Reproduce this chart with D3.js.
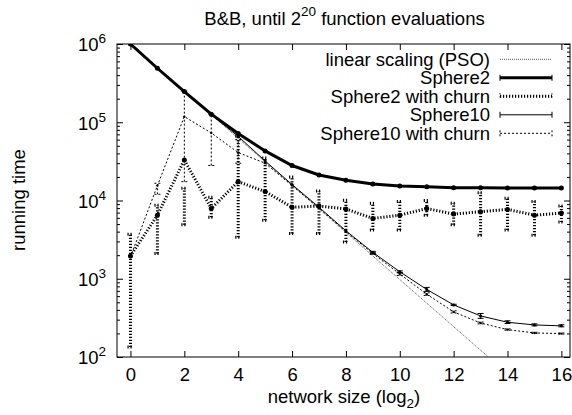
<!DOCTYPE html>
<html>
<head>
<meta charset="utf-8">
<script src="https://cdn.jsdelivr.net/npm/d3@7"></script>
<style>
body { margin: 0; background: #fff; }
text { font-family: "Liberation Sans", Arial, sans-serif; fill: #000; }
</style>
</head>
<body>
<div id="chart"></div>
<script>
// values (x = log2 network size)
var netSize = [0, 1, 2, 3, 4, 5, 6, 7, 8, 9, 10, 11, 12, 13, 14, 15, 16];
var xTicks = [0, 2, 4, 6, 8, 10, 12, 14, 16];
var yDecades = [1e2, 1e3, 1e4, 1e5, 1e6];

var linearPSO = [1e6, 5e5, 2.5e5, 1.25e5, 62500, 31250, 15625, 7812, 3906, 1953, 977, 488, 244, 122, 61, 31, 15];

var sphere2 = [1e6, 4.9e5, 2.47e5, 1.27e5, 7.2e4, 4.3e4, 2.8e4, 2.12e4, 1.82e4, 1.62e4, 1.53e4, 1.5e4, 1.46e4, 1.45e4, 1.44e4, 1.44e4, 1.44e4];

var sphere2Churn   = [1950, 6500, 33000, 7900, 17400, 13000, 8200, 8500, 7800, 5900, 6500, 7900, 6700, 7200, 7700, 6500, 6900];
var sphere2ChurnLo = [134, 2100, 4900, 6100, 3400, 5600, 3800, 3800, 2950, 4200, 4200, 6500, 4900, 3600, 4200, 3600, 5300];
var sphere2ChurnHi = [3700, 8700, 14300, 11000, 66000, 35000, 20000, 13200, 10100, 9200, 9700, 10000, 9200, 12600, 10700, 9700, 8500];

var sphere10   = [1e6, 5e5, 2.5e5, 1.25e5, 6.6e4, 3.2e4, 1.6e4, 8.2e3, 4.1e3, 2170, 1230, 730, 463, 335, 278, 257, 250];
var sphere10Lo = [1e6, 5e5, 2.5e5, 1.25e5, 6.6e4, 3.2e4, 1.6e4, 8.2e3, 4.1e3, 2100, 1200, 690, 455, 312, 268, 250, 243];
var sphere10Hi = [1e6, 5e5, 2.5e5, 1.25e5, 6.6e4, 3.2e4, 1.6e4, 8.2e3, 4.1e3, 2240, 1260, 775, 472, 360, 290, 265, 258];

var sphere10Churn   = [1900, 15500, 118000, 73000, 41000, 30000, 15500, 8000, 4000, 2100, 1150, 635, 377, 272, 224, 203, 199];
var sphere10ChurnLo = [1900, 12000, 17400, 28000, 30000, 30000, 15500, 8000, 4000, 2050, 1100, 610, 365, 265, 220, 200, 196];
var sphere10ChurnHi = [1900, 16600, 250000, 127000, 60000, 30000, 15500, 8000, 4000, 2150, 1190, 660, 390, 280, 229, 207, 203];

var legendNames = ["linear scaling (PSO)", "Sphere2", "Sphere2 with churn", "Sphere10", "Sphere10 with churn"];

// set the dimensions of the graph (gnuplot style box)
var W = 572, H = 415;
var plot = {left: 117, right: 570, top: 44, bottom: 357};

var svg = d3.select("#chart")
    .append("svg")
    .attr("width", W)
    .attr("height", H);

var x = d3.scaleLinear()
    .domain([-0.5, 16.32])
    .range([plot.left, plot.right]);

var y = d3.scaleLog()
    .domain([1e2, 1e6])
    .range([plot.bottom, plot.top]);

// minor log ticks 2..9 per decade
var yMinor = [];
yDecades.slice(0, 4).forEach(function(d) {
    for (var k = 2; k <= 9; k++) yMinor.push(d * k);
});

function addAxis(axis, tx, ty) {
    var g = svg.append("g")
        .attr("transform", "translate(" + tx + "," + ty + ")")
        .call(axis);
    g.select(".domain").remove();
    g.selectAll(".tick line").attr("stroke", "#000").attr("stroke-width", 1);
    return g;
}

var fs = 18.5;

// x axis bottom & mirrored top
var xAxisG = addAxis(d3.axisBottom(x).tickValues(xTicks).tickSizeInner(-6).tickSizeOuter(0).tickPadding(11), 0, plot.bottom);
xAxisG.selectAll("text").attr("font-size", fs).attr("fill", "#000");
addAxis(d3.axisTop(x).tickValues(xTicks).tickSizeInner(-6).tickSizeOuter(0).tickFormat(""), 0, plot.top);

// y axes, major & minor, left and right
addAxis(d3.axisLeft(y).tickValues(yDecades).tickSizeInner(-6).tickSizeOuter(0).tickFormat(""), plot.left, 0);
addAxis(d3.axisLeft(y).tickValues(yMinor).tickSizeInner(-3).tickSizeOuter(0).tickFormat(""), plot.left, 0);
addAxis(d3.axisRight(y).tickValues(yDecades).tickSizeInner(-6).tickSizeOuter(0).tickFormat(""), plot.right, 0);
addAxis(d3.axisRight(y).tickValues(yMinor).tickSizeInner(-3).tickSizeOuter(0).tickFormat(""), plot.right, 0);

// y tick labels 10^k
var yLab = svg.append("g").selectAll("text")
    .data(yDecades)
    .join("text")
        .attr("x", plot.left - 11)
        .attr("y", d => y(d))
        .attr("dy", "0.4em")
        .attr("text-anchor", "end")
        .attr("font-size", fs);
yLab.append("tspan").text("10");
yLab.append("tspan")
    .attr("font-size", 13.5)
    .attr("dy", -8)
    .text(d => Math.round(Math.log10(d)));

// border
svg.append("rect")
    .attr("x", plot.left).attr("y", plot.top)
    .attr("width", plot.right - plot.left)
    .attr("height", plot.bottom - plot.top)
    .attr("fill", "none")
    .attr("stroke", "#000")
    .attr("stroke-width", 1);

// title
var title = svg.append("text")
    .attr("x", 344.5).attr("y", 25)
    .attr("text-anchor", "middle")
    .attr("font-size", fs);
title.append("tspan").text("B&B, until 2");
title.append("tspan").attr("font-size", 13.5).attr("dy", -9).text("20");
title.append("tspan").attr("dy", 9).text(" function evaluations");

// x label
var xl = svg.append("text")
    .attr("x", 344).attr("y", 403)
    .attr("text-anchor", "middle")
    .attr("font-size", fs);
xl.append("tspan").text("network size (log");
xl.append("tspan").attr("font-size", 13.5).attr("dy", 5).text("2");
xl.append("tspan").attr("dy", -5).text(")");

// y label
svg.append("text")
    .attr("transform", "translate(25,200) rotate(-90)")
    .attr("text-anchor", "middle")
    .attr("font-size", fs)
    .text("running time");

// series
var series = [
    {vals: linearPSO, width: 1, dash: "1,1", color: "#555", bars: false, r: 0},
    {vals: sphere2, width: 3, dash: null, color: "#000", bars: false, r: 2.5},
    {vals: sphere2Churn, lo: sphere2ChurnLo, hi: sphere2ChurnHi, width: 3, dash: "1.2,1.8", color: "#000", bars: true, r: 2.5},
    {vals: sphere10, lo: sphere10Lo, hi: sphere10Hi, width: 1, dash: null, color: "#000", bars: true, r: 1.5},
    {vals: sphere10Churn, lo: sphere10ChurnLo, hi: sphere10ChurnHi, width: 1, dash: "2,2", color: "#000", bars: true, r: 1.2}
];
series.forEach(function(s, i) { s.name = legendNames[i]; });

svg.append("clipPath").attr("id", "clip")
    .append("rect")
    .attr("x", plot.left).attr("y", plot.top)
    .attr("width", plot.right - plot.left)
    .attr("height", plot.bottom - plot.top);

var dataG = svg.append("g").attr("clip-path", "url(#clip)");

var line = d3.line()
    .x(d => x(d[0]))
    .y(d => y(d[1]));

var capW = 3;

series.forEach(function(s) {
    var pts = netSize.map((n, i) => [n, s.vals[i]]);
    var g = dataG.append("g")
        .attr("stroke", s.color)
        .attr("stroke-width", s.width)
        .attr("stroke-dasharray", s.dash)
        .attr("fill", "none");
    g.append("path").attr("d", line(pts));

    if (s.bars) {
        netSize.forEach(function(n, i) {
            if (s.lo[i] === s.hi[i]) return;
            var cx = x(n), y0 = y(s.lo[i]), y1 = y(s.hi[i]);
            g.append("line").attr("x1", cx).attr("x2", cx).attr("y1", y0).attr("y2", y1);
            g.append("line").attr("x1", cx - capW).attr("x2", cx + capW).attr("y1", y0).attr("y2", y0);
            g.append("line").attr("x1", cx - capW).attr("x2", cx + capW).attr("y1", y1).attr("y2", y1);
        });
    }
    if (s.r > 0) {
        dataG.append("g").selectAll("circle")
            .data(pts)
            .join("circle")
                .attr("cx", d => x(d[0]))
                .attr("cy", d => y(d[1]))
                .attr("r", s.r)
                .attr("fill", s.color);
    }
});

// legend
var legX = 490, sampleX0 = 500, sampleX1 = 552;
var legY = [59.3, 77.8, 96.3, 114.8, 133.3];
series.forEach(function(s, i) {
    var ly = legY[i];
    svg.append("text")
        .attr("x", legX).attr("y", ly)
        .attr("dy", "0.35em")
        .attr("text-anchor", "end")
        .attr("font-size", fs)
        .text(s.name);
    var g = svg.append("g")
        .attr("stroke", s.color)
        .attr("stroke-width", s.width)
        .attr("stroke-dasharray", s.dash)
        .attr("fill", "none");
    g.append("line").attr("x1", sampleX0).attr("x2", sampleX1).attr("y1", ly).attr("y2", ly);
    if (i > 0) {
        [sampleX0, sampleX1].forEach(function(ex) {
            g.append("line").attr("x1", ex).attr("x2", ex).attr("y1", ly - 3).attr("y2", ly + 3)
                .attr("stroke-dasharray", null)
                .attr("stroke-width", 1);
        });
    }
});
</script>
</body>
</html>
